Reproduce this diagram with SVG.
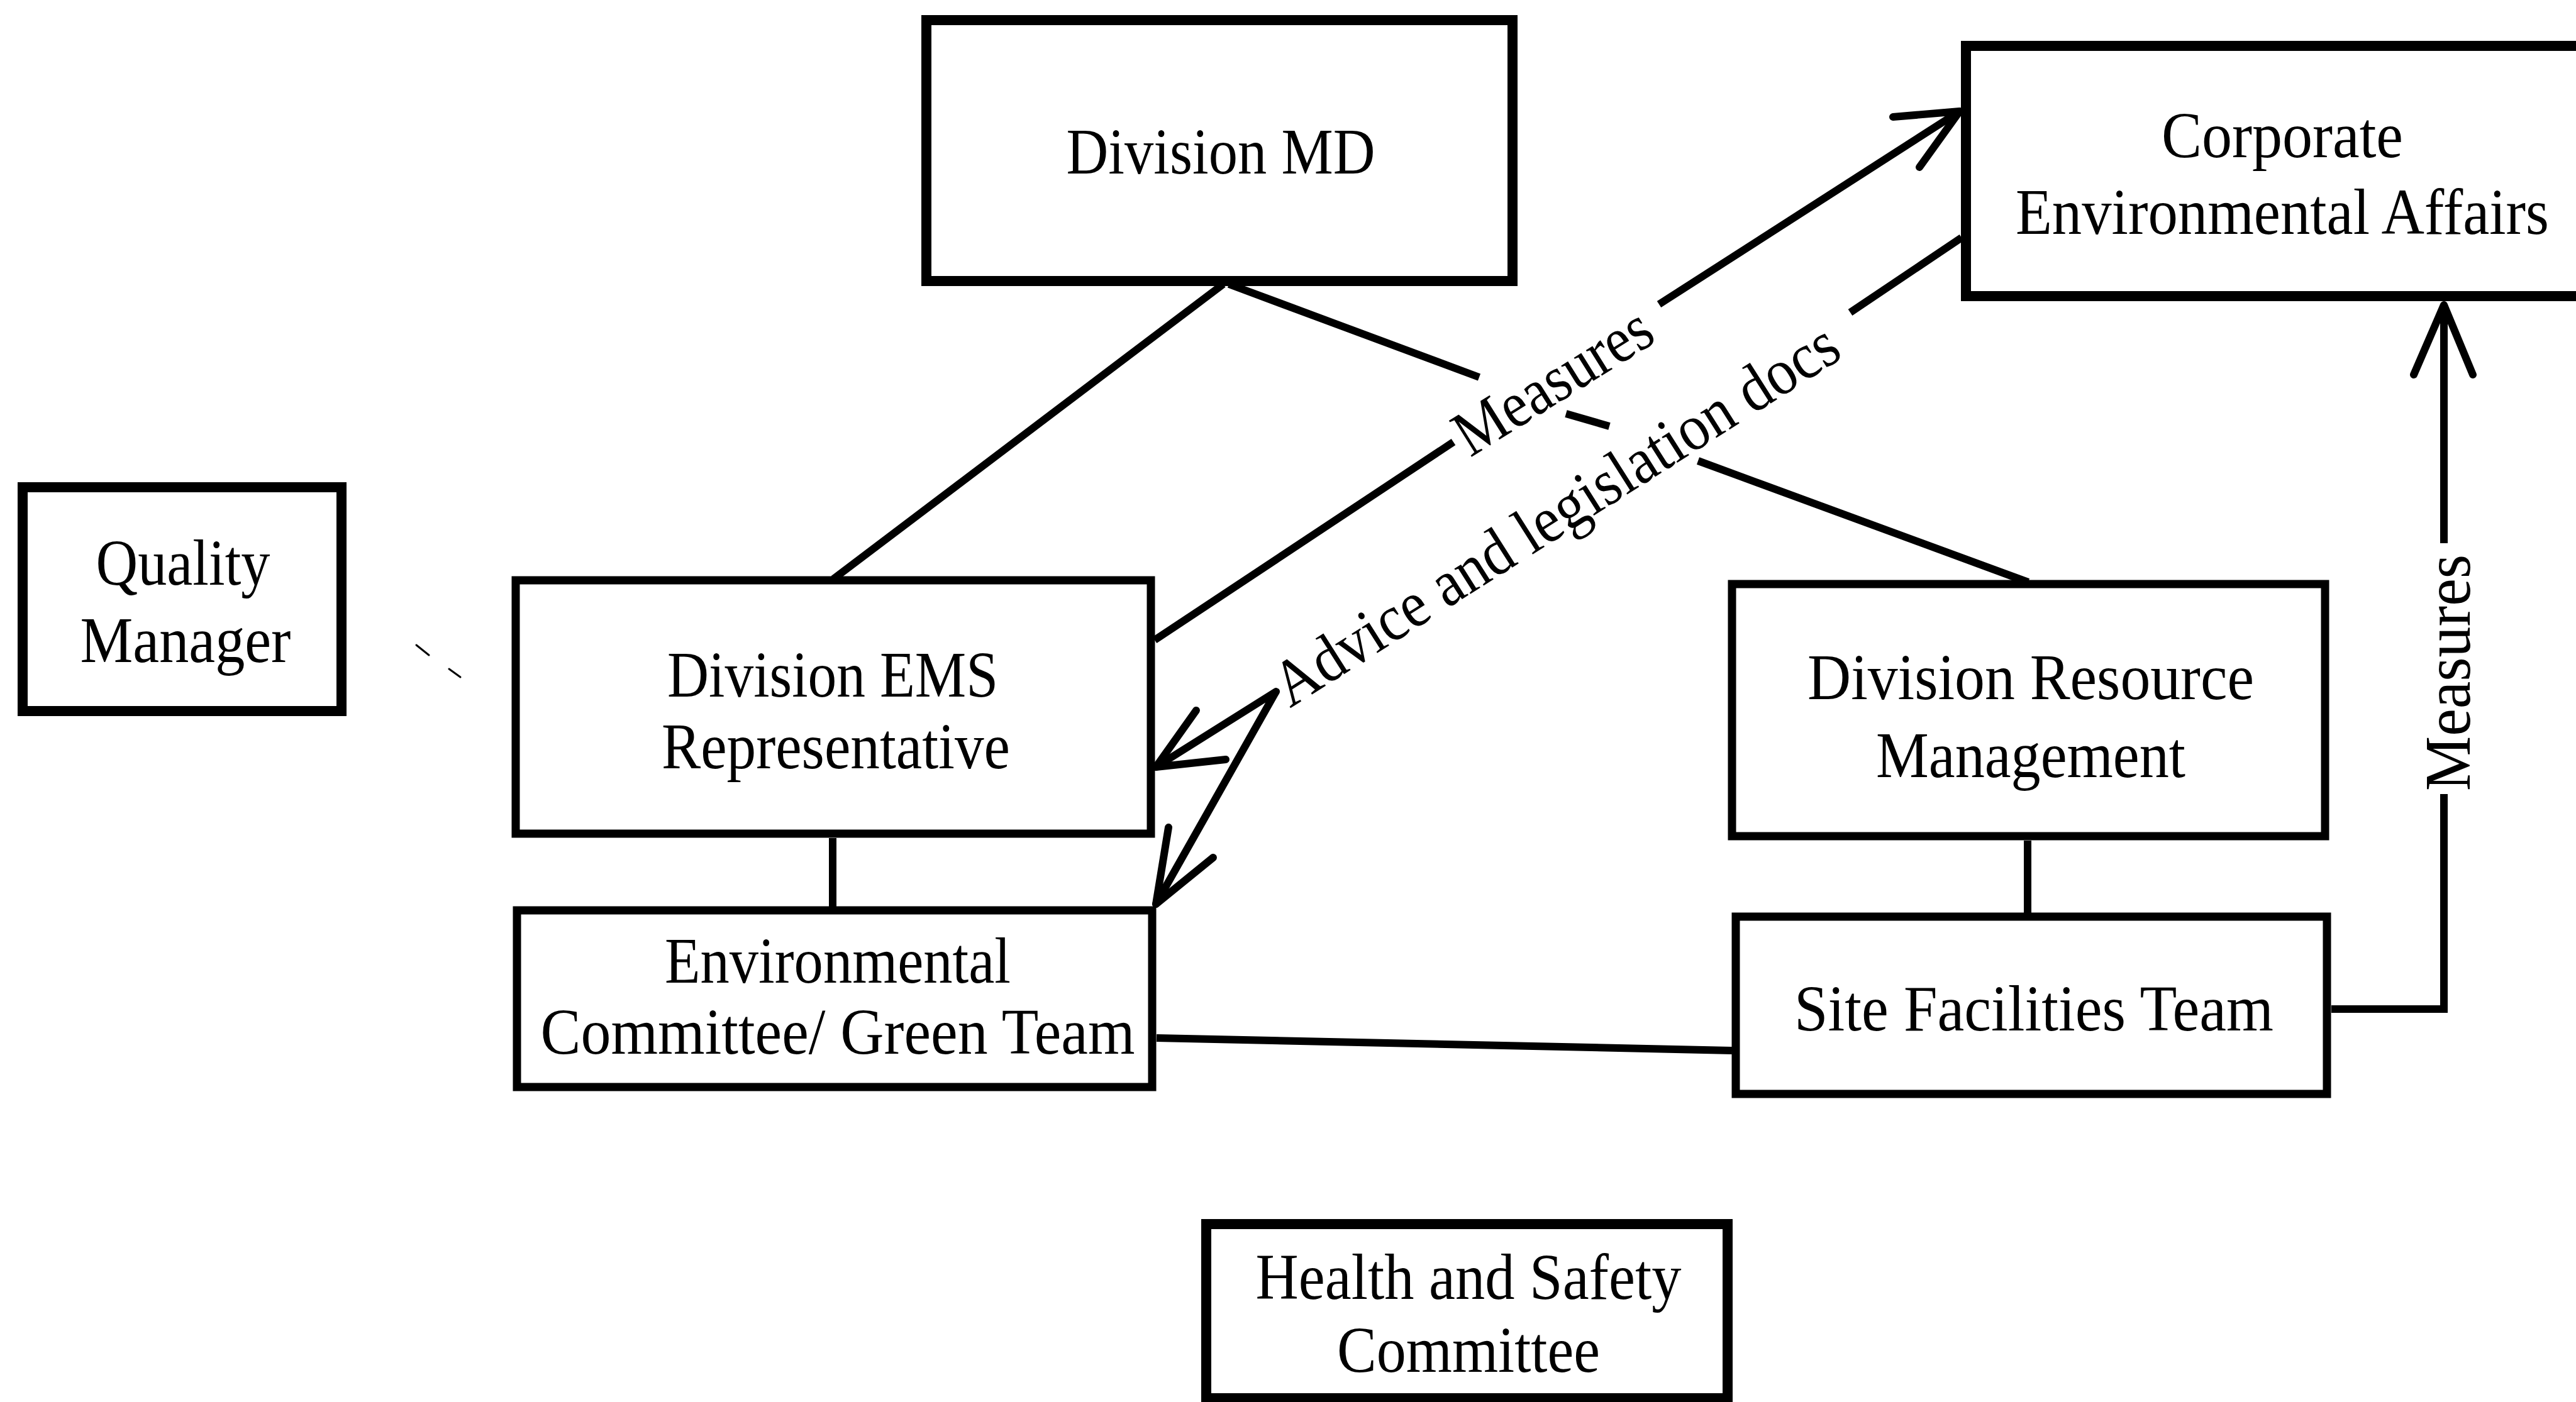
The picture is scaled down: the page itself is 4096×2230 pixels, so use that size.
<svg xmlns="http://www.w3.org/2000/svg" width="4096" height="2230" viewBox="0 0 4096 2230">
  <style>
    .box { fill: #fff; stroke: #000; stroke-width: 16; stroke-linejoin: miter; }
    .thin { stroke-width: 13; }
    .ln { fill: none; stroke: #000; stroke-width: 12; stroke-linecap: butt; }
    .arr { fill: none; stroke: #000; stroke-width: 12; stroke-linecap: round; stroke-linejoin: round; }
    .tick { stroke: #000; stroke-width: 3; stroke-linecap: round; }
    text { font-family: "Liberation Serif", "Times New Roman", serif; font-size: 104px; fill: #000; text-anchor: middle; }
  </style>
  <rect width="4096" height="2230" fill="#fff"/>

  <!-- connectors -->
  <g id="connectors">
    <!-- Division MD to Division EMS Representative -->
    <line class="ln" x1="1945" y1="452" x2="1325" y2="921"/>
    <!-- Division MD to Division Resource Management, broken by the labels -->
    <line class="ln" x1="1954" y1="452" x2="2352" y2="600"/>
    <line class="ln" x1="2490" y1="658" x2="2559" y2="678"/>
    <line class="ln" x1="2700" y1="733" x2="3225" y2="926"/>
    <!-- EMS rep to Corporate: Measures -->
    <line class="ln" x1="1836" y1="1018" x2="2311" y2="703"/>
    <line class="ln" x1="2638" y1="484" x2="3116" y2="177"/>
    <polyline class="arr" points="3010,186 3116,177 3052,266"/>
    <!-- Corporate to EMS rep and Green Team: Advice and legislation docs -->
    <line class="ln" x1="3119" y1="378" x2="2942" y2="497"/>
    <polyline class="arr" points="1838,1220 2029,1100 1838,1438"/>
    <polyline class="arr" points="1902,1130 1838,1220 1949,1208"/>
    <polyline class="arr" points="1858,1316 1838,1438 1929,1364"/>
    <!-- EMS rep to Environmental Committee -->
    <line class="ln" x1="1324" y1="1333" x2="1324" y2="1442"/>
    <!-- Division Resource Management to Site Facilities Team -->
    <line class="ln" x1="3224" y1="1337" x2="3224" y2="1452"/>
    <!-- Environmental Committee to Site Facilities Team -->
    <line class="ln" x1="1839" y1="1651" x2="2754" y2="1671"/>
    <!-- Site Facilities Team to Corporate: Measures -->
    <polyline class="ln" points="3707,1605 3886,1605 3886,1263"/>
    <line class="ln" x1="3886" y1="864" x2="3886" y2="488"/>
    <polyline class="arr" points="3838,596 3886,485 3932,596"/>
    <!-- faint stray marks beside Quality Manager -->
    <line class="tick" x1="662" y1="1026" x2="682" y2="1042"/>
    <line class="tick" x1="714" y1="1064" x2="732" y2="1077"/>
  </g>

  <!-- connector labels -->
  <g id="labels">
    <text transform="translate(2487,635) rotate(-32)" textLength="352" lengthAdjust="spacingAndGlyphs">Measures</text>
    <text transform="translate(2492,847) rotate(-32.4)" textLength="1044" lengthAdjust="spacingAndGlyphs">Advice and legislation docs</text>
    <text transform="translate(3927,1070) rotate(-90)" textLength="376" lengthAdjust="spacingAndGlyphs">Measures</text>
  </g>

  <g id="division-md">
    <rect class="box" x="1473" y="32" width="932" height="415"/>
    <text x="1941" y="276" textLength="491" lengthAdjust="spacingAndGlyphs">Division MD</text>
  </g>

  <g id="corporate-environmental-affairs">
    <rect class="box" x="3126" y="73" width="1000" height="398"/>
    <text x="3629" y="250" textLength="384" lengthAdjust="spacingAndGlyphs">Corporate</text>
    <text x="3629" y="372" textLength="848" lengthAdjust="spacingAndGlyphs">Environmental Affairs</text>
  </g>

  <g id="quality-manager">
    <rect class="box" x="36" y="775" width="507" height="356"/>
    <text x="291" y="930" textLength="277" lengthAdjust="spacingAndGlyphs">Quality</text>
    <text x="295" y="1053" textLength="335" lengthAdjust="spacingAndGlyphs">Manager</text>
  </g>

  <g id="division-ems-representative">
    <rect class="box thin" x="820" y="923" width="1010" height="403"/>
    <text x="1324" y="1108" textLength="526" lengthAdjust="spacingAndGlyphs">Division EMS</text>
    <text x="1329" y="1222" textLength="554" lengthAdjust="spacingAndGlyphs">Representative</text>
  </g>

  <g id="environmental-committee">
    <rect class="box thin" x="822" y="1448" width="1010" height="281"/>
    <text x="1332" y="1563" textLength="550" lengthAdjust="spacingAndGlyphs">Environmental</text>
    <text x="1332" y="1676" textLength="945" lengthAdjust="spacingAndGlyphs">Committee/ Green Team</text>
  </g>

  <g id="division-resource-management">
    <rect class="box thin" x="2754" y="929" width="943" height="401"/>
    <text x="3229" y="1112" textLength="710" lengthAdjust="spacingAndGlyphs">Division Resource</text>
    <text x="3229" y="1236" textLength="492" lengthAdjust="spacingAndGlyphs">Management</text>
  </g>

  <g id="site-facilities-team">
    <rect class="box thin" x="2760" y="1458" width="940" height="282"/>
    <text x="3234" y="1639" textLength="762" lengthAdjust="spacingAndGlyphs">Site Facilities Team</text>
  </g>

  <g id="health-and-safety-committee">
    <rect class="box" x="1918" y="1947" width="829" height="277"/>
    <text x="2335" y="2066" textLength="677" lengthAdjust="spacingAndGlyphs">Health and Safety</text>
    <text x="2335" y="2182" textLength="418" lengthAdjust="spacingAndGlyphs">Committee</text>
  </g>
</svg>
